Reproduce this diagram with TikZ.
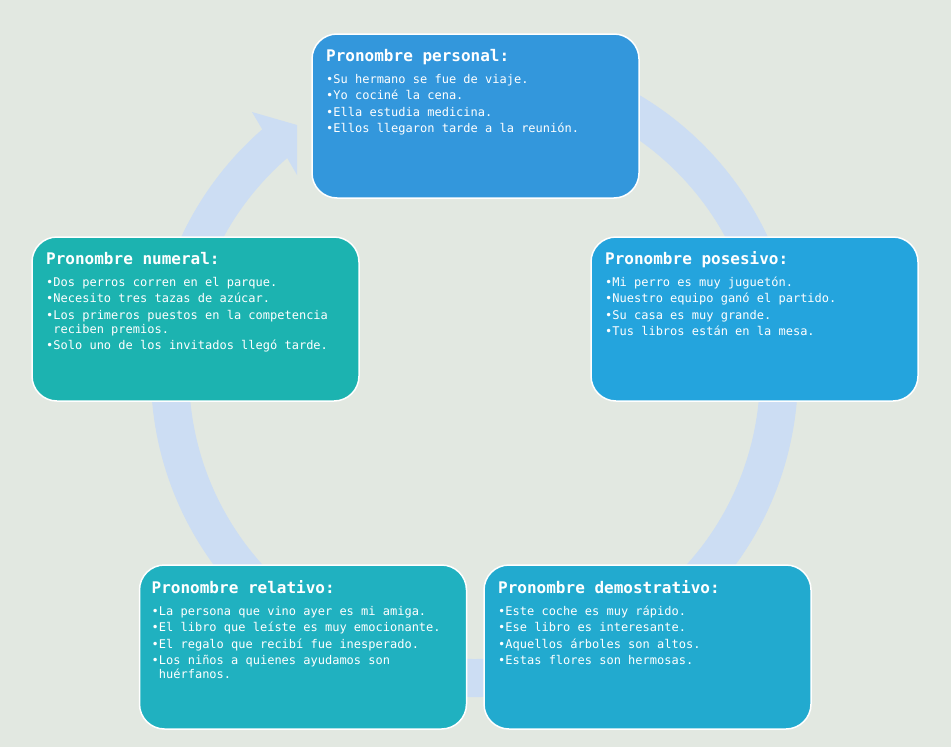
\documentclass[tikz,border=0pt]{standalone}
\usepackage{fontspec}
\newfontfamily\monof{DejaVu Sans Mono}
\usetikzlibrary{calc}
\definecolor{bgc}{RGB}{226,232,225}
\definecolor{ringc}{RGB}{204,221,243}
\definecolor{cpers}{RGB}{51,151,220}
\definecolor{cpos}{RGB}{36,164,221}
\definecolor{cnum}{RGB}{28,179,176}
\definecolor{crel}{RGB}{32,177,192}
\definecolor{cdem}{RGB}{34,170,207}
\begin{document}
\begin{tikzpicture}[x=1pt,y=-1pt,
  card/.style={draw=white, line width=1.5pt, rounded corners=25pt, minimum width=327pt, minimum height=164pt, inner sep=0pt, outer sep=0pt},
  ttl/.style={anchor=base west, inner sep=0pt, text=white, font=\monof\bfseries\fontsize{16}{18}\selectfont},
  bdy/.style={anchor=north west, inner sep=0pt, text=white, align=left, font=\monof\fontsize{12}{14}\selectfont},
]
\fill[bgc] (0,0) rectangle (951,747);
\useasboundingbox (0,0) rectangle (951,747);

% ring arrow
\coordinate (C) at (474.5,373.5);
\fill[ringc] ($(C)+(-80:323.5)$) arc[start angle=-80, end angle=229, radius=323.5]
  -- (252,112) -- (297,125) -- (297,175) -- ($(C)+(229:285.5)$)
  arc[start angle=229, end angle=-80, radius=285.5] -- cycle;

% cards
\node[card, fill=cpers] (personal) at (475.5,116) {};
\node[card, fill=cpos] (posesivo) at (754.5,319) {};
\node[card, fill=cnum] (numeral) at (195.5,319) {};
\node[card, fill=crel] (relativo) at (303,647) {};
\node[card, fill=cdem] (demostrativo) at (647.5,647) {};

\node[ttl] (personalT) at ($(personal.north west)+(14,27.5)$) {Pronombre personal:};
\node[bdy] (personalB) at ($(personal.north west)+(14,39.2)$)
  {\strut•Su hermano se fue de viaje.\\[2.5pt]•Yo cociné la cena.\\[2.5pt]•Ella estudia medicina.\\[2.5pt]•Ellos llegaron tarde a la reunión.};

\node[ttl] (posesivoT) at ($(posesivo.north west)+(14,27.5)$) {Pronombre posesivo:};
\node[bdy] (posesivoB) at ($(posesivo.north west)+(14,39.2)$)
  {\strut•Mi perro es muy juguetón.\\[2.5pt]•Nuestro equipo ganó el partido.\\[2.5pt]•Su casa es muy grande.\\[2.5pt]•Tus libros están en la mesa.};

\node[ttl] (numeralT) at ($(numeral.north west)+(14,27.5)$) {Pronombre numeral:};
\node[bdy] (numeralB) at ($(numeral.north west)+(14,39.2)$)
  {\strut•Dos perros corren en el parque.\\[2.5pt]•Necesito tres tazas de azúcar.\\[2.5pt]•Los primeros puestos en la competencia\\\hspace*{7.22pt}reciben premios.\\[2.5pt]•Solo uno de los invitados llegó tarde.};

\node[ttl] (relativoT) at ($(relativo.north west)+(12,28)$) {Pronombre relativo:};
\node[bdy] (relativoB) at ($(relativo.north west)+(12,40)$)
  {\strut•La persona que vino ayer es mi amiga.\\[2.5pt]•El libro que leíste es muy emocionante.\\[2.5pt]•El regalo que recibí fue inesperado.\\[2.5pt]•Los niños a quienes ayudamos son\\\hspace*{7.22pt}huérfanos.};

\node[ttl] (demostrativoT) at ($(demostrativo.north west)+(14,28)$) {Pronombre demostrativo:};
\node[bdy] (demostrativoB) at ($(demostrativo.north west)+(14,40)$)
  {\strut•Este coche es muy rápido.\\[2.5pt]•Ese libro es interesante.\\[2.5pt]•Aquellos árboles son altos.\\[2.5pt]•Estas flores son hermosas.};
\end{tikzpicture}
\end{document}
